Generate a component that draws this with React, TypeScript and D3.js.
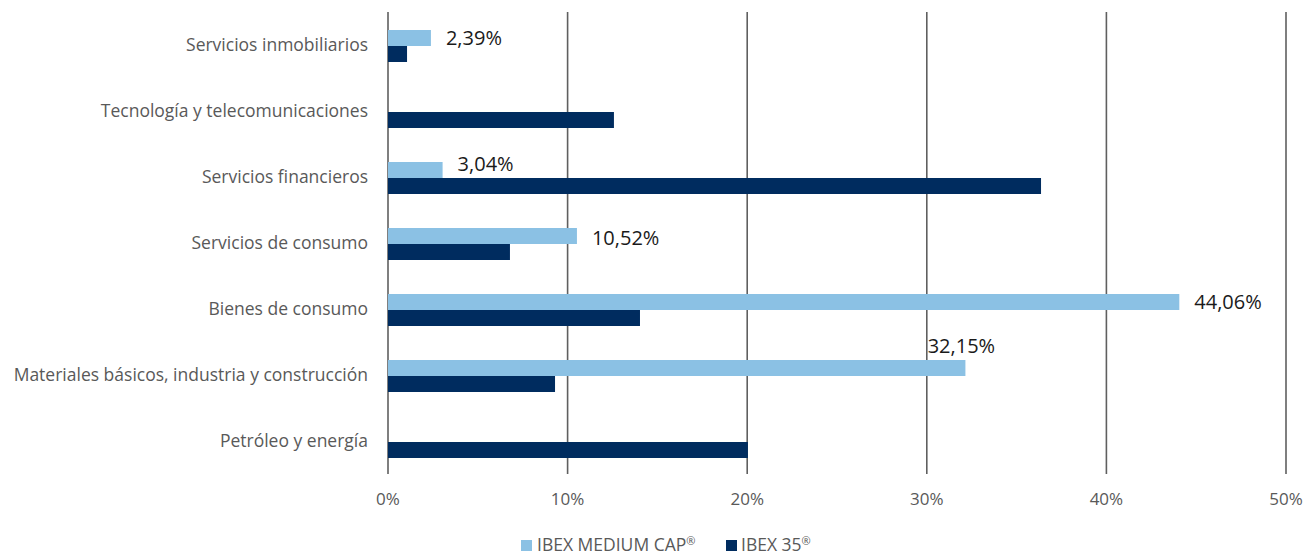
import * as d3 from "d3";

const categories = [
    "Servicios inmobiliarios",
    "Tecnología y telecomunicaciones",
    "Servicios financieros",
    "Servicios de consumo",
    "Bienes de consumo",
    "Materiales básicos, industria y construcción",
    "Petróleo y energía",
];
const mediumCap = [2.39, 0, 3.04, 10.52, 44.06, 32.15, 0];
const ibex35 = [1.06, 12.58, 36.36, 6.79, 14.03, 9.3, 20.04];
const ticks = [0, 10, 20, 30, 40, 50];
const seriesNames = ["IBEX MEDIUM CAP", "IBEX 35"];

const LIGHT = "#8bc1e4";
const DARK = "#002c5f";
const GRID = "#5f5f5f";
const FONT = "'Open Sans', sans-serif";

const W = 1306;
const H = 555;

function fmt(v: number) {
    return v.toFixed(2).replace(".", ",") + "%";
}

export default function App() {
    const x = d3.scaleLinear().domain([0, 50]).range([388, 1286]);
    const y = d3.scaleBand<string>().domain(categories).range([13, 475]).padding(0);
    const barH = 16;

    return (
        <svg
            width={W}
            height={H}
            style={{ position: "absolute", left: 0, top: 0, background: "#fff" }}
            fontFamily={FONT}
        >
            {/* grid */}
            {ticks.map((t) => (
                <line
                    key={t}
                    x1={x(t)}
                    x2={x(t)}
                    y1={12}
                    y2={474}
                    stroke={GRID}
                    strokeWidth={1.6}
                />
            ))}

            {/* bars + category labels */}
            {categories.map((c, i) => {
                const cy = y(c)! + y.bandwidth() / 2;
                return (
                    <g key={c}>
                        {mediumCap[i] > 0 && (
                            <rect
                                x={x(0)}
                                y={cy - barH}
                                width={x(mediumCap[i]) - x(0)}
                                height={barH}
                                fill={LIGHT}
                            />
                        )}
                        <rect
                            x={x(0)}
                            y={cy}
                            width={x(ibex35[i]) - x(0)}
                            height={barH}
                            fill={DARK}
                        />
                        <text
                            x={368}
                            y={cy - 1}
                            dy="0.35em"
                            textAnchor="end"
                            fontSize={17.5}
                            fill="#595959"
                        >
                            {c}
                        </text>
                    </g>
                );
            })}

            {/* value labels, IBEX MEDIUM CAP only */}
            {categories.map((c, i) => {
                const v = mediumCap[i];
                if (v <= 0) return null;
                const cy = y(c)! + y.bandwidth() / 2 - barH / 2;
                const above = c.startsWith("Materiales");
                const lift = c === "Servicios financieros" ? -6 : c === "Servicios de consumo" ? 2 : 0;
                return (
                    <text
                        key={c}
                        x={above ? x(v) - 4 : x(v) + 15}
                        y={above ? cy - 22 : cy + lift}
                        dy="0.35em"
                        textAnchor={above ? "middle" : "start"}
                        fontSize={20}
                        fill="#1a1a1a"
                    >
                        {fmt(v)}
                    </text>
                );
            })}

            {/* x axis labels */}
            {ticks.map((t) => (
                <text
                    key={t}
                    x={x(t)}
                    y={499}
                    dy="0.35em"
                    textAnchor="middle"
                    fontSize={17}
                    fill="#595959"
                >
                    {t}%
                </text>
            ))}

            {/* legend */}
            <g fontSize={17.5} fill="#595959">
                <rect x={521} y={540} width={11} height={11} fill={LIGHT} />
                <text x={537} y={545} dy="0.35em">
                    {seriesNames[0]}
                    <tspan fontSize={11} dy={-6}>®</tspan>
                </text>
                <rect x={726} y={540} width={11} height={11} fill={DARK} />
                <text x={741} y={545} dy="0.35em">
                    {seriesNames[1]}
                    <tspan fontSize={11} dy={-6}>®</tspan>
                </text>
            </g>
        </svg>
    );
}
